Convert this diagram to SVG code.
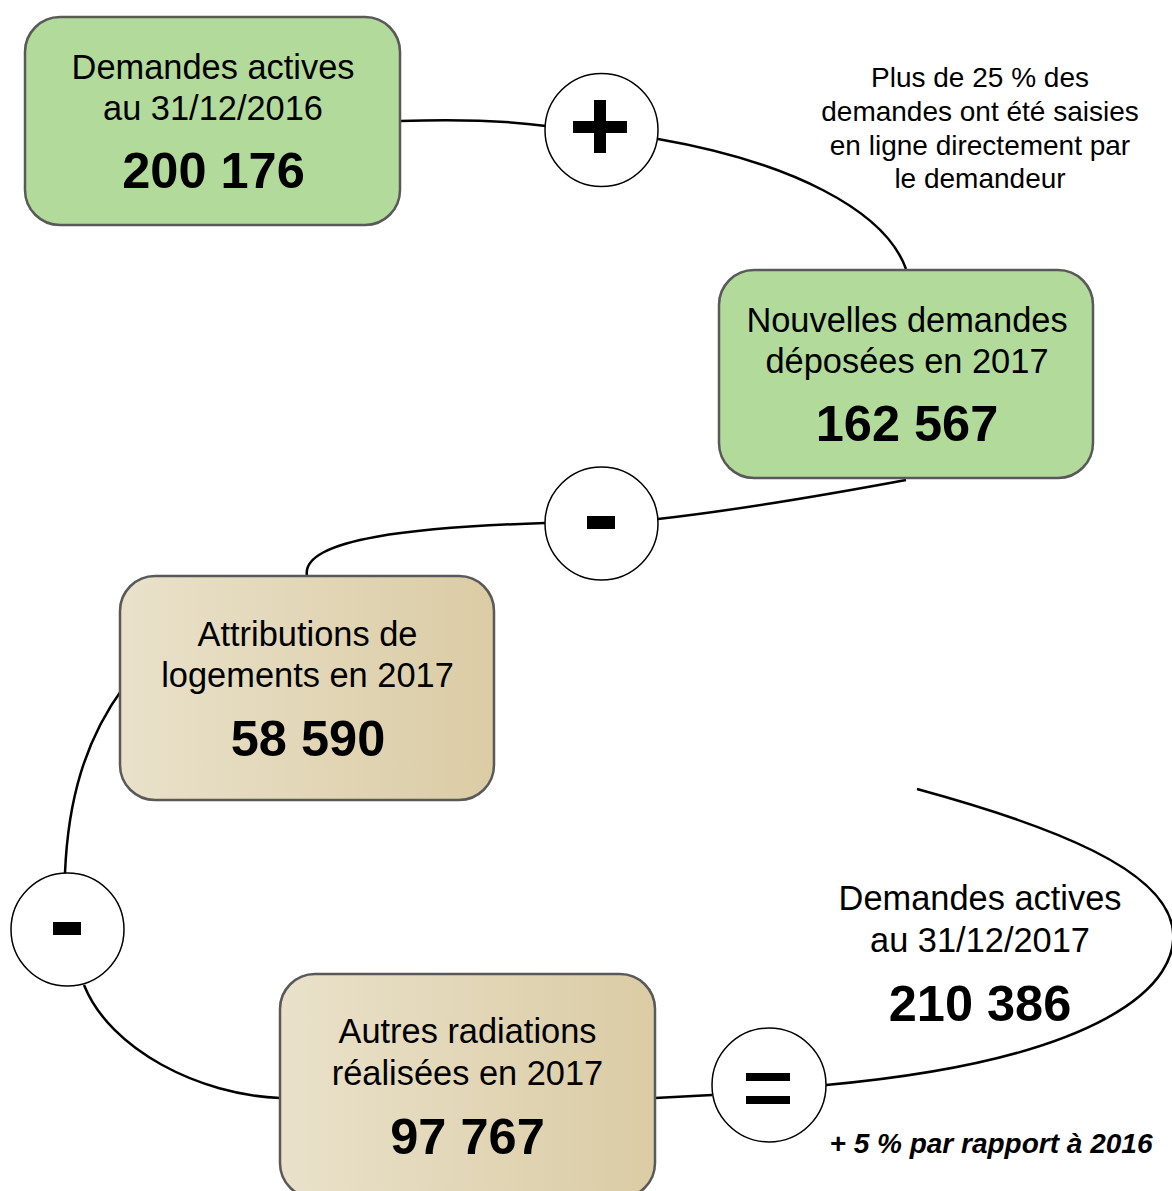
<svg xmlns="http://www.w3.org/2000/svg" width="1172" height="1191" viewBox="0 0 1172 1191">
<defs>
<linearGradient id="tan" x1="0" y1="0" x2="1" y2="0">
<stop offset="0" stop-color="#e9e1ca"/>
<stop offset="1" stop-color="#dbcca5"/>
</linearGradient>
<style>
.box{stroke:#595959;stroke-width:2.5}
.green{fill:#b2da9b}
.tanf{fill:url(#tan)}
.lbl{font-family:"Liberation Sans",Arial,sans-serif;font-size:34.4px;fill:#000;text-anchor:middle}
.num{font-family:"Liberation Sans",Arial,sans-serif;font-size:50.5px;font-weight:bold;fill:#000;text-anchor:middle}
.note{font-family:"Liberation Sans",Arial,sans-serif;font-size:28px;fill:#000;text-anchor:middle}
.conn{fill:none;stroke:#000;stroke-width:2.5}
.op{fill:#fff;stroke:#000;stroke-width:1.5}
</style>
</defs>
<rect width="1172" height="1191" fill="#fff"/>
<g id="connectors">
<path class="conn" d="M400,121 C460,119 510,121 546,126"/>
<path class="conn" d="M658,139 C790,162 885,210 906,269"/>
<path class="conn" d="M906,480 C820,496 720,512 658,519"/>
<path class="conn" d="M545,523 C420,527 300,538 307,576"/>
<path class="conn" d="M123,688 C85,740 68,800 65,873"/>
<path class="conn" d="M84,985 C110,1050 200,1095 280,1098"/>
<path class="conn" d="M655,1098 L712,1095"/>
<path class="conn" d="M917,789 C1060,828 1160,870 1172,925 C1185,985 1100,1060 826,1085"/>
</g>
<g id="node-2016">
<rect class="box green" x="25" y="17" width="375" height="208" rx="35"/>
<text class="lbl" x="213" y="79">Demandes actives</text>
<text class="lbl" x="213" y="120">au 31/12/2016</text>
<text class="num" x="213.5" y="188">200 176</text>
</g>
<g id="op-plus">
<circle class="op" cx="601.5" cy="130" r="56.5"/>
<rect x="573" y="121" width="54" height="12"/>
<rect x="594" y="100" width="12" height="53"/>
</g>
<g id="note-online">
<text class="note" x="980" y="87">Plus de 25 % des</text>
<text class="note" x="980" y="121">demandes ont été saisies</text>
<text class="note" x="980" y="155">en ligne directement par</text>
<text class="note" x="980" y="188">le demandeur</text>
</g>
<g id="node-nouvelles">
<rect class="box green" x="719" y="270" width="374" height="208" rx="35"/>
<text class="lbl" x="907" y="332">Nouvelles demandes</text>
<text class="lbl" x="907" y="373">déposées en 2017</text>
<text class="num" x="907" y="441">162 567</text>
</g>
<g id="op-minus-1">
<circle class="op" cx="601.5" cy="523.5" r="56.5"/>
<rect x="587" y="516" width="28" height="13"/>
</g>
<g id="node-attributions">
<rect class="box tanf" x="120" y="576" width="374" height="224" rx="35"/>
<text class="lbl" x="307.5" y="646">Attributions de</text>
<text class="lbl" x="307.5" y="687">logements en 2017</text>
<text class="num" x="308" y="756">58 590</text>
</g>
<g id="op-minus-2">
<circle class="op" cx="67.5" cy="929.5" r="56.5"/>
<rect x="53" y="922" width="28" height="13"/>
</g>
<g id="node-radiations">
<rect class="box tanf" x="280" y="974" width="375" height="224" rx="35"/>
<text class="lbl" x="467.5" y="1043">Autres radiations</text>
<text class="lbl" x="467.5" y="1085">réalisées en 2017</text>
<text class="num" x="467.5" y="1154">97 767</text>
</g>
<g id="op-equals">
<circle class="op" cx="769" cy="1085" r="57"/>
<rect x="746" y="1073" width="44" height="8"/>
<rect x="746" y="1096" width="44" height="8"/>
</g>
<g id="node-2017">
<text class="lbl" x="980" y="910">Demandes actives</text>
<text class="lbl" x="980" y="952">au 31/12/2017</text>
<text class="num" x="980" y="1021">210 386</text>
<text class="note" x="991" y="1153" font-weight="bold" font-style="italic">+ 5 % par rapport à 2016</text>
</g>
</svg>
